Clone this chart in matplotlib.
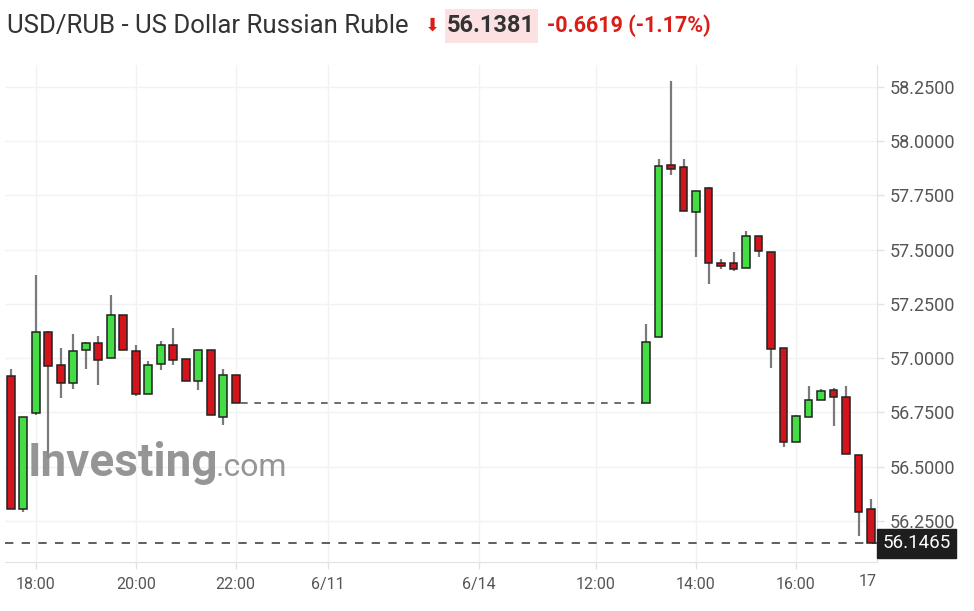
import matplotlib
matplotlib.use("Agg")
import matplotlib.pyplot as plt
from matplotlib.patches import Rectangle

# ---------------- data ----------------
# left session (6/10), 15-minute candles, hour of day
left_hours = [17.5, 17.75, 18.0, 18.25, 18.5, 18.75, 19.0, 19.25, 19.5, 19.75,
              20.0, 20.25, 20.5, 20.75, 21.0, 21.25, 21.5, 21.75, 22.0]
left_open = [56.917, 56.304, 56.747, 57.120, 56.968, 56.884, 57.039, 57.069, 57.000, 57.199,
             57.032, 56.835, 56.975, 57.060, 56.995, 56.897, 57.040, 56.728, 56.923]
left_high = [56.952, 56.728, 57.384, 57.125, 57.045, 57.110, 57.075, 57.102, 57.290, 57.199,
             57.063, 56.986, 57.079, 57.137, 56.995, 57.040, 57.040, 56.948, 56.923]
left_low = [56.304, 56.290, 56.740, 56.539, 56.816, 56.860, 56.948, 56.875, 57.000, 57.039,
            56.825, 56.835, 56.946, 56.971, 56.894, 56.853, 56.739, 56.690, 56.792]
left_close = [56.304, 56.728, 57.120, 56.963, 56.884, 57.032, 57.069, 56.992, 57.199, 57.039,
              56.835, 56.968, 57.060, 56.994, 56.894, 57.040, 56.739, 56.923, 56.792]

# right session (6/14), 15-minute candles, hour of day
right_hours = [13.0, 13.25, 13.5, 13.75, 14.0, 14.25, 14.5, 14.75, 15.0, 15.25,
               15.5, 15.75, 16.0, 16.25, 16.5, 16.75, 17.0, 17.25, 17.5]
right_open = [56.792, 57.097, 57.888, 57.880, 57.675, 57.786, 57.438, 57.438, 57.414, 57.562,
              57.488, 57.048, 56.616, 56.731, 56.806, 56.852, 56.821, 56.554, 56.307]
right_high = [57.159, 57.920, 58.275, 57.920, 57.772, 57.790, 57.457, 57.488, 57.585, 57.562,
              57.488, 57.048, 56.740, 56.870, 56.858, 56.862, 56.870, 56.554, 56.349]
right_low = [56.792, 57.097, 57.843, 57.676, 57.468, 57.340, 57.410, 57.400, 57.414, 57.468,
             56.955, 56.593, 56.616, 56.731, 56.806, 56.688, 56.559, 56.181, 56.1465]
right_close = [57.076, 57.886, 57.870, 57.676, 57.772, 57.437, 57.423, 57.410, 57.562, 57.492,
               57.043, 56.616, 56.736, 56.806, 56.850, 56.821, 56.559, 56.292, 56.1465]

y_ticks = [56.25, 56.50, 56.75, 57.00, 57.25, 57.50, 57.75, 58.00, 58.25]
x_tick_labels = ["18:00", "20:00", "22:00", "6/11", "6/14", "12:00", "14:00", "16:00"]
last_price = 56.1465
title_main = "USD/RUB - US Dollar Russian Ruble"
title_price = "56.1381"
title_change = "-0.6619 (-1.17%)"

# ---------------- layout (compressed time axis) ----------------
RIGHT_OFFSET = 17.206          # shift of the 6/14 session on the compressed axis
x_tick_pos = [18, 20, 22, 23.84, 26.866, 12 + RIGHT_OFFSET, 14 + RIGHT_OFFSET, 16 + RIGHT_OFFSET]

W, H = 974, 611
fig = plt.figure(figsize=(W / 100, H / 100), dpi=100)
fig.patch.set_facecolor("white")

def fx(px):
    return px / W

def fy(py):
    return 1 - py / H

ax = fig.add_axes([fx(5), fy(562), fx(877) - fx(5), fy(65) - fy(562)])
ax.set_xlim(17.386, 34.826)
ax.set_ylim(56.061, 58.351)

GREEN = "#45dd45"
RED = "#d3151b"
EDGE = "#222222"
WICK = "#7a7a7a"
BW = 0.155

def draw(hours, o, h, l, c, offset):
    for t, oo, hh, ll, cc in zip(hours, o, h, l, c):
        x = t + offset
        ax.vlines(x, ll, hh, color=WICK, lw=1.6, zorder=3)
        lo, hi = min(oo, cc), max(oo, cc)
        if hi - lo < 0.012:
            mid = (hi + lo) / 2
            lo, hi = mid - 0.006, mid + 0.006
        col = GREEN if cc >= oo else RED
        ax.add_patch(Rectangle((x - BW / 2, lo), BW, hi - lo, facecolor=col,
                               edgecolor=EDGE, lw=1.1, zorder=4))

draw(left_hours, left_open, left_high, left_low, left_close, 0)
draw(right_hours, right_open, right_high, right_low, right_close, RIGHT_OFFSET)

# gap line from last close to next session
ax.hlines(left_close[-1], left_hours[-1] + 0.1, right_hours[0] + RIGHT_OFFSET - 0.08,
          color="#555555", lw=1.2, linestyles=(0, (4, 4)), zorder=2)
# current price line
ax.axhline(last_price, color="#444444", lw=1.2, ls=(0, (5, 5)), zorder=2)

# grid
for yv in y_ticks:
    ax.axhline(yv, color="#f2f2f2", lw=1, zorder=0)
for xv in x_tick_pos:
    ax.axvline(xv, color="#f2f2f2", lw=1, zorder=0)

for s in ["top", "left"]:
    ax.spines[s].set_visible(False)
ax.spines["bottom"].set_color("#e2e2e2")
ax.spines["right"].set_color("#e2e2e2")

ax.yaxis.tick_right()
ax.set_yticks(y_ticks)
ax.set_yticklabels([f"{v:.4f}" for v in y_ticks])
ax.set_xticks(x_tick_pos)
ax.set_xticklabels(x_tick_labels)
ax.tick_params(axis="both", colors="#e2e2e2", labelcolor="#555555", length=5, width=1)
ax.tick_params(axis="x", pad=6, labelsize=11.5)
ax.tick_params(axis="y", pad=4, labelsize=13)
for lab in ax.get_xticklabels() + ax.get_yticklabels():
    lab.set_fontfamily("Roboto")

# clipped "17" label at right edge
ax.text(34.646, -0.024, "17", transform=ax.get_xaxis_transform(), ha="center", va="top",
        fontsize=11.5, color="#555555", family="Roboto")

# last price box
ax.annotate(f"{last_price:.4f}", xy=(1, last_price), xycoords=("axes fraction", "data"),
            xytext=(4, 0), textcoords="offset points", ha="left", va="center",
            fontsize=13.5, color="white", family="Roboto",
            bbox=dict(boxstyle="square,pad=0.3", fc="#1e1e1e", ec="#1e1e1e"))

# watermark
fig.text(fx(28), fy(476), "Investing", fontsize=33, fontweight="bold", color="#8a8a8a",
         family="Roboto", ha="left", va="baseline", alpha=0.9, zorder=1)
fig.text(fx(216), fy(476), ".com", fontsize=23, color="#8a8a8a",
         family="Roboto", ha="left", va="baseline", alpha=0.9, zorder=1)

# title
fig.text(fx(7), fy(26), title_main, fontsize=18.5, color="#333333", family="Roboto",
         ha="left", va="center")
fig.text(fx(432), fy(26), "\u2B07", fontsize=13, color="#d91e18", family="DejaVu Sans",
         ha="center", va="center")
fig.patches.append(Rectangle((fx(445), fy(43)), fx(538) - fx(445), fy(9) - fy(43),
                             transform=fig.transFigure, facecolor="#fbe1e1",
                             edgecolor="none", zorder=0))
fig.text(fx(491), fy(26), title_price, fontsize=17, fontweight="bold", color="#333333",
         family="Roboto", ha="center", va="center")
fig.text(fx(547), fy(26), title_change, fontsize=15.5, fontweight="bold", color="#d91e18",
         family="Roboto", ha="left", va="center")

fig.savefig("out.png", dpi=100, facecolor="white")
